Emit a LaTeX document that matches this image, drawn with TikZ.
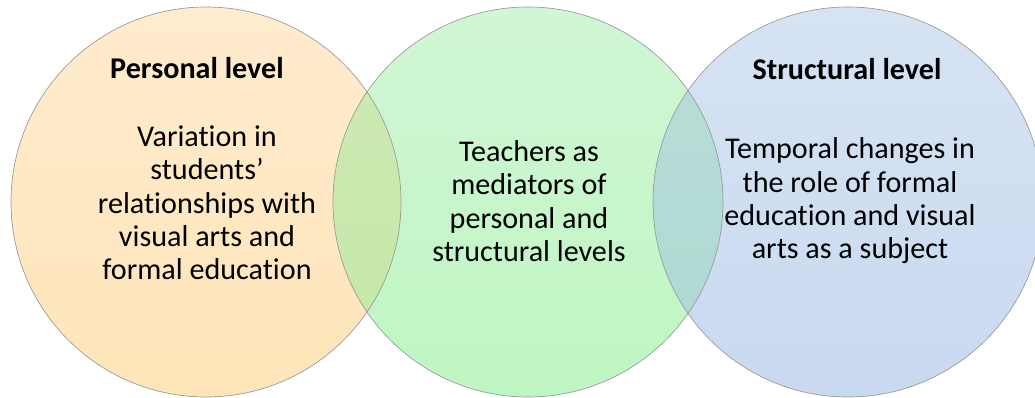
\documentclass[tikz,border=0pt]{standalone}
\usepackage{fontspec}
\setmainfont{Carlito}[Ligatures=NoCommon]
\usepackage{xcolor}

\definecolor{persTop}{HTML}{FFECCE}
\definecolor{persBot}{HTML}{FEE5B9}
\definecolor{mediTop}{HTML}{D1F6D4}
\definecolor{mediBot}{HTML}{BEF6C3}
\definecolor{strucTop}{HTML}{D6E3F3}
\definecolor{strucBot}{HTML}{C9D9F0}
\definecolor{pmTop}{HTML}{CFEAB6}
\definecolor{pmBot}{HTML}{C3E8A6}
\definecolor{msTop}{HTML}{BADDD8}
\definecolor{msBot}{HTML}{ADD9D2}

\begin{document}
\begin{tikzpicture}[x=0.75pt,y=-0.75pt,
            ring/.style={draw=black!40, line width=0.5pt},
            title/.style={font=\fontsize{22.6}{25}\selectfont\bfseries, anchor=base},
            body/.style={font=\fontsize{22.6}{25}\selectfont, align=center}
        ]
            \useasboundingbox (0,0) rectangle (1035,398);
            \clip (0,0) rectangle (1035,398);

            % Circle fills
            \shade[top color=persTop, bottom color=persBot] (206,202) circle[radius=146.25pt];
            \shade[top color=mediTop, bottom color=mediBot] (528,202) circle[radius=146.25pt];
            \shade[top color=strucTop, bottom color=strucBot] (848,202) circle[radius=146.25pt];

            % Overlaps
            \begin{scope}
                \clip (206,202) circle[radius=146.25pt];
                \shade[top color=pmTop, bottom color=pmBot] (528,202) circle[radius=146.25pt];
            \end{scope}
            \begin{scope}
                \clip (848,202) circle[radius=146.25pt];
                \shade[top color=msTop, bottom color=msBot] (528,202) circle[radius=146.25pt];
            \end{scope}

            % Outlines
            \draw[ring] (206,202) circle[radius=146.25pt];
            \draw[ring] (528,202) circle[radius=146.25pt];
            \draw[ring] (848,202) circle[radius=146.25pt];

            % Personal level
            \node[title] (persTitle) at (197,79) {Personal level};
            \node[body] (persText) at (207,203) {Variation in\\ students’\\ relationships with\\ visual arts and\\ formal education};

            % Mediators
            \node[body] (mediText) at (529,201) {Teachers as\\ mediators of\\ personal and\\ structural levels};

            % Structural level
            \node[title] (strucTitle) at (847,80) {Structural level};
            \node[body] (strucText) at (850,201) {Temporal changes in\\ the role of formal\\ education and visual\\ arts as a subject};

        \end{tikzpicture}
\end{document}
